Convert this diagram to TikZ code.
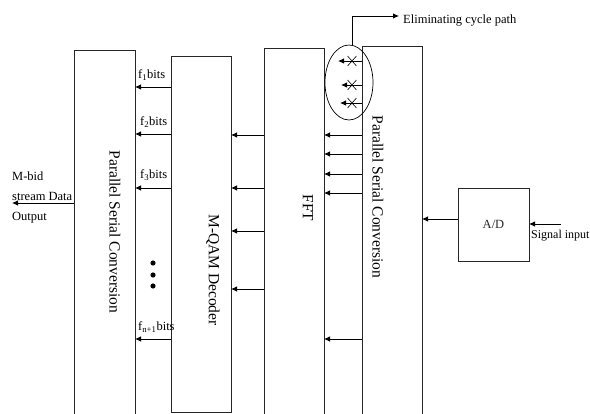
\documentclass[tikz,border=0pt]{standalone}
\usepackage{fontspec}
\setmainfont{Liberation Serif}
\usetikzlibrary{arrows.meta,shapes.geometric}
\begin{document}
\begin{tikzpicture}[x=1pt,y=-1pt,
  blk/.style={rectangle,inner sep=0pt,outer sep=0pt},
  ln/.style={line width=0.8pt,black!85},
  arr/.style={line width=0.8pt,-{Latex[length=6pt,width=5.5pt]}},
  big/.style={font=\fontsize{15.5}{18}\selectfont},
  small/.style={font=\fontsize{12.5}{20}\selectfont},
  vlabel/.style={big,rotate=-90,inner sep=0pt},
  flab/.style={small,anchor=base west,inner sep=0pt},
  xmark/.style={line width=0.6pt}
]
\useasboundingbox (0,0) rectangle (590,414);
% blocks
\node[blk,minimum width=61pt,minimum height=364pt] (b1) at (104.5,232) {};
\node[blk,draw,ln,minimum width=60pt,minimum height=356pt] (b2) at (201,234) {};
\node[blk,minimum width=60pt,minimum height=366pt] (b3) at (294,231) {};
\node[blk,minimum width=60pt,minimum height=368pt] (b4) at (392,230) {};
\node[blk,draw,ln,minimum width=71pt,minimum height=73pt,small] (ad) at (493.5,224.5) {A/D};
\draw[ln] (b1.south west) -- (b1.north west) -- (b1.north east) -- (b1.south east);
\draw[ln] (b3.south west) -- (b3.north west) -- (b3.north east) -- (b3.south east);
\draw[ln] (b4.south west) -- (b4.north west) -- (b4.north east) -- (b4.south east);
% block labels
\node[vlabel] (l1) at (115,232) {Parallel Serial Conversion};
\node[vlabel] (l2) at (213,270) {M-QAM Decoder};
\node[vlabel] (l3) at (308,208) {FFT};
\node[vlabel] (l4) at (378,197) {Parallel Serial Conversion};
% input
\coordinate (sin) at (561,224);
\draw[arr] (sin) -- (ad.east |- sin);
\node[font=\fontsize{12}{14}\selectfont,anchor=base west,inner sep=0pt] (sigtxt) at (531,239) {Signal input};
\draw[arr] (ad.west |- 0,219) -- (b4.east |- 0,219);
% PS -> FFT
\foreach \y in {135,154,174,193,339}{
  \draw[arr] (b4.west |- 0,\y) -- (b3.east |- 0,\y);
}
% eliminated paths
\node[ellipse,draw,line width=0.7pt,minimum width=48pt,minimum height=75pt,inner sep=0pt] (ell) at (349,82.5) {};
\foreach \y/\t in {61/338,85/341,103/340}{
  \draw[arr] (b4.west |- 0,\y) -- (\t,\y);
  \draw[xmark] (352-4.5,\y-5) -- (352+4.5,\y+5);
  \draw[xmark] (352-4.5,\y+5) -- (352+4.5,\y-5);
}
\coordinate (elimc) at (399,16);
\draw[arr] (ell.85) |- (elimc);
\node[small,anchor=base west,inner sep=0pt] (elimtxt) at (403,24) {Eliminating cycle path};
% FFT -> decoder
\foreach \y in {135,188,231,289}{
  \draw[arr] (b3.west |- 0,\y) -- (b2.east |- 0,\y);
}
% decoder -> PS
\foreach \y in {87,134,188,339}{
  \draw[arr] (b2.west |- 0,\y) -- (b1.east |- 0,\y);
}
\node[flab] (f1) at (138,79) {f\textsubscript{1}bits};
\node[flab] (f2) at (140,126) {f\textsubscript{2}bits};
\node[flab] (f3) at (140,179) {f\textsubscript{3}bits};
\node[flab] (fn) at (138,331) {f\textsubscript{n+1}bits};
\foreach \y in {263,275,286}{
  \fill (153,\y) circle (2.6pt);
}
% output
\coordinate (out) at (12,203);
\draw[arr] (b1.west |- out) -- (out);
\node[small,anchor=base west,inner sep=0pt,align=left] (outtxt) at (12,221) {M-bid\\stream Data\\Output};
\end{tikzpicture}
\end{document}
